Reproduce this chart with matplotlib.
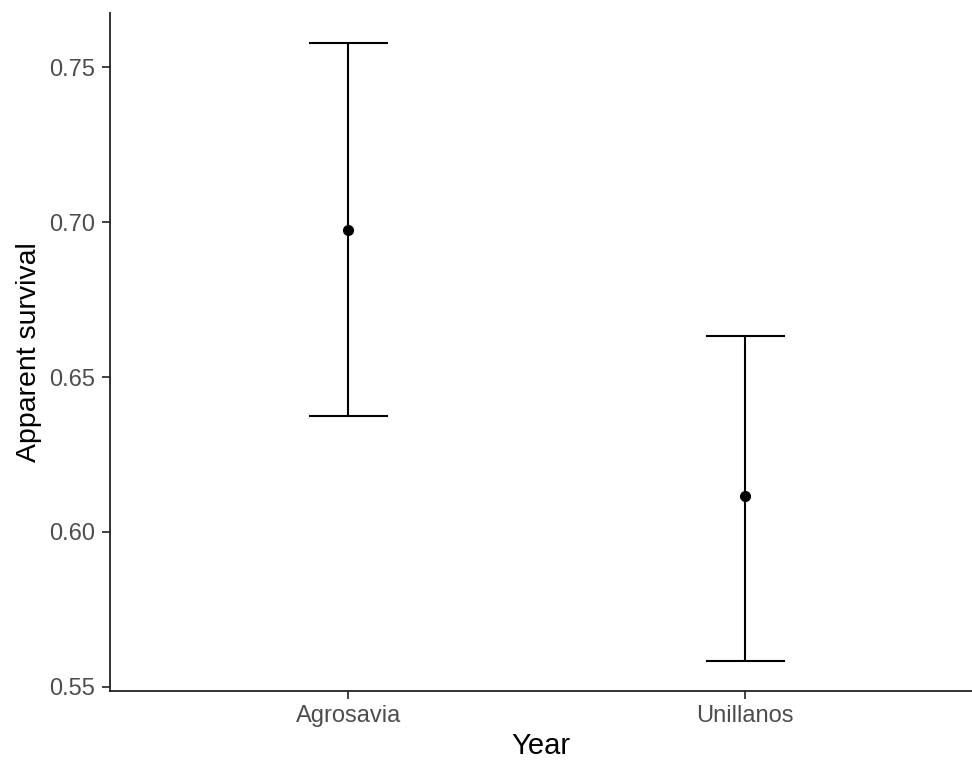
import matplotlib.pyplot as plt

# apparent survival estimates with confidence limits per site
sites = ['Agrosavia', 'Unillanos']
survival = [0.6976, 0.6115]
lower = [0.6374, 0.5584]
upper = [0.7578, 0.6632]

plt.rcParams['font.family'] = ['Liberation Sans', 'DejaVu Sans']

fig = plt.figure(figsize=(9.72, 7.63), dpi=100)
ax = fig.add_axes([110 / 972, 72.3 / 763, 1 - 110 / 972, (690.7 - 13.3) / 763])

x = list(range(1, len(sites) + 1))
err = [[s - lo for s, lo in zip(survival, lower)],
       [up - s for s, up in zip(survival, upper)]]

ax.errorbar(x, survival, yerr=err, fmt='none', ecolor='black',
            elinewidth=1.5, capsize=0, zorder=2)
# ggplot-style caps: width 0.2 in data units
ax.hlines(lower + upper, [i - 0.1 for i in x] * 2, [i + 0.1 for i in x] * 2,
          colors='black', linewidth=1.5, zorder=2)
ax.plot(x, survival, 'o', color='black', markersize=7, zorder=3)

ax.set_xlim(0.4, 2.571)
ax.set_ylim(0.5487, 0.7675)
ax.set_xticks(x)
ax.set_xticklabels(sites)
ax.set_yticks([0.55, 0.60, 0.65, 0.70, 0.75])
ax.set_yticklabels(['0.55', '0.60', '0.65', '0.70', '0.75'])

ax.set_xlabel('Year', fontsize=21, labelpad=4)
ax.set_ylabel('Apparent survival', fontsize=20.5, labelpad=5)

for side in ['top', 'right']:
    ax.spines[side].set_visible(False)
for side in ['left', 'bottom']:
    ax.spines[side].set_linewidth(1.3)
    ax.spines[side].set_color('#222222')

ax.tick_params(axis='both', length=6, width=1.3, color='#333333',
               labelsize=17, labelcolor='#4D4D4D')
ax.tick_params(axis='y', pad=5)
ax.tick_params(axis='x', pad=4)

fig.savefig('out.png', dpi=100)
